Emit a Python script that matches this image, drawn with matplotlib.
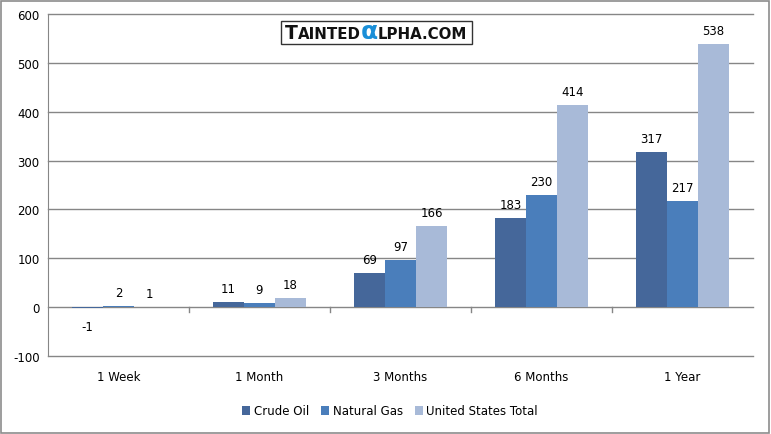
import numpy as np
import matplotlib.pyplot as plt
from matplotlib.patches import Rectangle
from matplotlib.transforms import blended_transform_factory

plt.rcParams["axes.unicode_minus"] = False

periods = ["1 Week", "1 Month", "3 Months", "6 Months", "1 Year"]
crude_oil = [-1, 11, 69, 183, 317]
natural_gas = [2, 9, 97, 230, 217]
us_total = [1, 18, 166, 414, 538]
series_names = ["Crude Oil", "Natural Gas", "United States Total"]
colors = ["#45679A", "#4A7EBB", "#A8BAD8"]

W, H = 771, 435
fig = plt.figure(figsize=(W / 100, H / 100), dpi=100)
fig.patches.append(Rectangle((1 / W, 1 / H), 1 - 3 / W, 1 - 3 / H, transform=fig.transFigure,
                             fill=False, edgecolor="#8C8C8C", lw=1.2))

ax = fig.add_axes([48 / W, 1 - 357 / H, 705 / W, 342 / H])
x = np.arange(len(periods))
bw = 0.22
handles = []
for i, (vals, c) in enumerate(zip([crude_oil, natural_gas, us_total], colors)):
    pos = x + (i - 1) * bw
    b = ax.bar(pos, vals, bw, color=c, zorder=3)
    handles.append(b)
    for p, v in zip(pos, vals):
        off = 5 if v >= 0 else -9
        ax.annotate(str(v), (p, v), xytext=(0, off), textcoords="offset points",
                    ha="center", va="bottom" if v >= 0 else "top", fontsize=8.5)

ax.set_xlim(-0.5, 4.5)
ax.set_ylim(-100, 600)
ax.set_yticks(range(-100, 601, 100))
ax.tick_params(axis="y", length=0, labelsize=8.5, pad=6)
for g in range(-100, 601, 100):
    ax.axhline(g, color="#868686", lw=1, zorder=1, clip_on=False)
for s in ["top", "right", "bottom"]:
    ax.spines[s].set_visible(False)
ax.spines["left"].set_color("#868686")
ax.set_xticks([])
for b in np.arange(0.5, 4.5, 1):
    ax.plot([b, b], [0, -10], color="#868686", lw=1, zorder=2)
trans = blended_transform_factory(ax.transData, ax.transAxes)
for xi, lab in zip(x, periods):
    ax.text(xi, -0.06, lab, transform=trans, ha="center", va="center", fontsize=8.5)

fig.legend(handles, series_names, loc="center", bbox_to_anchor=(390 / W, 1 - 412 / H),
           ncol=3, frameon=False, fontsize=8.5, handlelength=0.7, handleheight=0.7,
           handletextpad=0.3, columnspacing=1.0)

# watermark
fig.patches.append(Rectangle((281 / W, 1 - 45 / H), 191 / W, 23 / H, transform=fig.transFigure,
                             facecolor="white", edgecolor="#333333", lw=1, zorder=5))
renderer = fig.canvas.get_renderer()
pieces = [("T", 13.5, "#111111"), ("AINTED", 10.8, "#111111"), ("\u03b1", 18, "#1A8FD8"),
          ("LPHA.COM", 10.8, "#111111")]
xpos = 285
for txt, fs, col in pieces:
    t = fig.text(xpos / W, 1 - 39 / H, txt, fontsize=fs, fontweight="bold", va="baseline",
                 color=col, zorder=6)
    xpos += t.get_window_extent(renderer).width

fig.savefig("out.png", dpi=100)
